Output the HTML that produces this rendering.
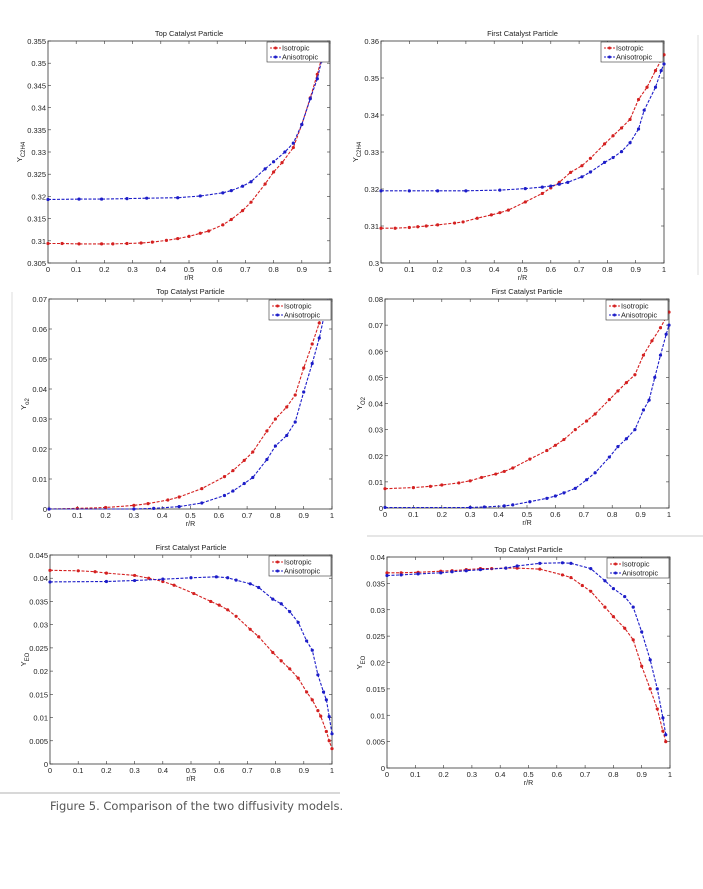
<!DOCTYPE html>
<html><head><meta charset="utf-8"><style>
html,body{margin:0;padding:0;background:#fff;width:703px;height:889px;overflow:hidden}
svg{position:absolute;left:0;top:0}
text{font-family:"Liberation Sans",sans-serif;fill:#222}
.cap{position:absolute;left:50px;top:799px;font-family:"DejaVu Sans","Liberation Sans",sans-serif;font-size:11.5px;color:#555}
</style></head><body>
<svg id="s" width="703" height="889" xmlns="http://www.w3.org/2000/svg">
<line x1="0" y1="793" x2="340" y2="793" stroke="#ccc" stroke-width="1.5"/>
<line x1="367" y1="536" x2="703" y2="536" stroke="#ddd" stroke-width="1.5"/>
<line x1="698" y1="35" x2="698" y2="275" stroke="#ddd" stroke-width="1"/>
<line x1="12" y1="292" x2="12" y2="520" stroke="#ddd" stroke-width="1"/>
</svg>
<div class="cap">Figure 5. Comparison of the two diffusivity models.</div>
<script>
var S=document.getElementById('s'),NS='http://www.w3.org/2000/svg';
function el(t,a,txt){var e=document.createElementNS(NS,t);for(var k in a)e.setAttribute(k,a[k]);if(txt!=null)e.textContent=txt;S.appendChild(e);return e;}
function P(o){
 var X0=o.x0,X1=o.x1,Y0=o.y0,Y1=o.y1;
 function px(x){return X0+x*(X1-X0);} function py(y){return Y1-(y-o.ymin)/(o.ymax-o.ymin)*(Y1-Y0);}
 el('rect',{x:X0,y:Y0,width:X1-X0,height:Y1-Y0,fill:'none',stroke:'#333','stroke-width':0.8});
 el('text',{x:(X0+X1)/2,y:Y0-5,'font-size':7.5,'text-anchor':'middle'},o.title);
 for(var i=0;i<=10;i++){var x=px(i/10);
  el('line',{x1:x,y1:Y1,x2:x,y2:Y1-3,stroke:'#333','stroke-width':0.6});
  el('line',{x1:x,y1:Y0,x2:x,y2:Y0+3,stroke:'#333','stroke-width':0.6});
  el('text',{x:x,y:Y1+9,'font-size':7.5,'text-anchor':'middle'},i==0?'0':i==10?'1':(i/10).toString());}
 for(var j=0;j<=o.nt;j++){var v=o.ymin+j*(o.ymax-o.ymin)/o.nt,y=py(v);
  el('line',{x1:X0,y1:y,x2:X0+3,y2:y,stroke:'#333','stroke-width':0.6});
  el('line',{x1:X1,y1:y,x2:X1-3,y2:y,stroke:'#333','stroke-width':0.6});
  var s=j==0&&o.ymin==0?'0':(+v.toFixed(o.dp)).toString();
  el('text',{x:X0-2,y:y+3,'font-size':7.5,'text-anchor':'end'},s);}
 el('text',{x:(X1+X0)/2,y:Y1+17,'font-size':7,'text-anchor':'middle'},'r/R');
 var t=el('text',{transform:'translate('+(o.lx)+','+((Y0+Y1)/2)+') rotate(-90)','font-size':7.5,'text-anchor':'middle'});
 t.innerHTML='Y<tspan font-size="6" dy="3">'+o.yl+'</tspan>';
 [[o.iso,'#d42020'],[o.an,'#1c1cc8']].forEach(function(d){
  var pts=d[0].map(function(p){return px(p[0]).toFixed(1)+','+py(p[1]).toFixed(1)}).join(' ');
  el('polyline',{points:pts,fill:'none',stroke:d[1],'stroke-width':1.1,'stroke-dasharray':'3,1.5'});
  d[0].forEach(function(p){el('circle',{cx:px(p[0]),cy:py(p[1]),r:1.6,fill:d[1]});});
 });
 var lx=X1-63,ly=Y0+1;
 el('rect',{x:lx,y:ly,width:62,height:20,fill:'#fff',stroke:'#333','stroke-width':0.6});
 [['Isotropic','#d42020'],['Anisotropic','#1c1cc8']].forEach(function(q,k){var yy=ly+6+k*9;
  el('line',{x1:lx+3,y1:yy,x2:lx+14,y2:yy,stroke:q[1],'stroke-width':0.9,'stroke-dasharray':'2,1'});
  el('circle',{cx:lx+8.5,cy:yy,r:1.5,fill:q[1]});
  el('text',{x:lx+15,y:yy+2.5,'font-size':7.3},q[0]);});
}
P({x0:48,x1:330,y0:41,y1:263,ymin:.305,ymax:.355,nt:10,dp:3,lx:22,yl:'C2H4',title:'Top Catalyst Particle',
iso:[[0,.3094],[.05,.3094],[.11,.3093],[.19,.3093],[.23,.3093],[.28,.3094],[.33,.3095],[.37,.3097],[.42,.3101],[.46,.3105],[.5,.311],[.54,.3117],[.57,.3122],[.62,.3136],[.65,.3148],[.69,.3168],[.72,.3187],[.77,.3228],[.8,.3255],[.83,.3276],[.87,.331],[.9,.3362],[.93,.3422],[.955,.3475],[.97,.351],[.985,.354]],
an:[[0,.3193],[.11,.3194],[.19,.3194],[.28,.3195],[.35,.3196],[.46,.3197],[.54,.3201],[.62,.3208],[.65,.3213],[.69,.3223],[.72,.3233],[.77,.3262],[.8,.3278],[.84,.33],[.87,.332],[.9,.3362],[.93,.342],[.955,.3465],[.97,.3505],[.985,.3535]]});
P({x0:381,x1:664,y0:41,y1:263,ymin:.3,ymax:.36,nt:6,dp:2,lx:358,yl:'C2H4',title:'First Catalyst Particle',
iso:[[0,.3094],[.05,.3094],[.1,.3096],[.13,.3098],[.16,.31],[.2,.3103],[.26,.3108],[.29,.3111],[.34,.3121],[.39,.313],[.42,.3136],[.45,.3143],[.51,.3165],[.57,.3188],[.6,.3203],[.63,.3218],[.67,.3245],[.71,.3263],[.74,.3283],[.79,.3322],[.82,.3344],[.85,.3365],[.88,.3388],[.91,.3442],[.94,.3475],[.97,.352],[1,.3563]],
an:[[0,.3195],[.1,.3195],[.2,.3195],[.3,.3195],[.42,.3197],[.51,.3201],[.57,.3205],[.6,.3208],[.63,.3213],[.66,.3218],[.71,.3233],[.74,.3246],[.79,.3272],[.82,.3285],[.85,.3301],[.88,.3325],[.91,.3362],[.93,.3413],[.97,.3475],[.99,.352],[1,.3538]]});
P({x0:49,x1:332,y0:299,y1:509,ymin:0,ymax:.07,nt:7,dp:2,lx:26,yl:'o2',title:'Top Catalyst Particle',
iso:[[0,0],[.1,.0002],[.2,.0005],[.3,.0012],[.35,.0018],[.42,.003],[.46,.004],[.54,.0068],[.62,.0108],[.65,.0128],[.69,.0162],[.72,.019],[.77,.026],[.8,.03],[.84,.034],[.87,.038],[.9,.047],[.93,.055],[.955,.062],[.97,.0675],[.985,.069]],
an:[[0,0],[.3,0],[.37,.0002],[.46,.0008],[.54,.002],[.62,.0045],[.65,.006],[.69,.0085],[.72,.0105],[.77,.0165],[.8,.021],[.84,.0245],[.87,.029],[.9,.039],[.93,.0485],[.955,.057],[.975,.0655],[.985,.0692]]});
P({x0:385,x1:669,y0:299,y1:508,ymin:0,ymax:.08,nt:8,dp:2,lx:362,yl:'O2',title:'First Catalyst Particle',
iso:[[0,.0074],[.1,.0078],[.16,.0083],[.2,.0088],[.26,.0096],[.3,.0104],[.34,.0117],[.39,.013],[.42,.014],[.45,.0153],[.51,.0187],[.57,.022],[.6,.024],[.63,.0262],[.67,.03],[.71,.0333],[.74,.036],[.79,.0415],[.82,.0448],[.85,.048],[.88,.051],[.91,.0585],[.94,.064],[.97,.069],[1,.075]],
an:[[0,.0002],[.3,.0002],[.35,.0004],[.42,.0008],[.45,.0012],[.51,.0024],[.57,.0037],[.6,.0046],[.63,.0058],[.67,.0075],[.71,.0108],[.74,.0135],[.79,.0195],[.82,.0235],[.85,.0265],[.88,.03],[.91,.0375],[.93,.0413],[.95,.05],[.97,.0585],[.99,.0665],[1,.07]]});
P({x0:50,x1:332,y0:555,y1:764,ymin:0,ymax:.045,nt:9,dp:3,lx:26,yl:'EO',title:'First Catalyst Particle',
iso:[[0,.0417],[.1,.0416],[.16,.0414],[.2,.0411],[.3,.0406],[.35,.04],[.4,.0393],[.44,.0385],[.51,.0367],[.57,.035],[.6,.0342],[.63,.0332],[.66,.0318],[.71,.029],[.74,.0274],[.79,.024],[.82,.0222],[.85,.0205],[.88,.0185],[.91,.0155],[.93,.0138],[.95,.0115],[.96,.0103],[.98,.007],[.99,.005],[1,.0033]],
an:[[0,.0392],[.2,.0393],[.3,.0395],[.4,.0398],[.5,.0401],[.59,.0403],[.63,.0401],[.66,.0396],[.71,.0388],[.74,.038],[.79,.0355],[.82,.0345],[.85,.0328],[.88,.0305],[.91,.0265],[.93,.0245],[.95,.0192],[.97,.0155],[.98,.0138],[.99,.0102],[1,.0065]]});
P({x0:387,x1:670,y0:557,y1:768,ymin:0,ymax:.04,nt:8,dp:3,lx:362,yl:'EO',title:'Top Catalyst Particle',
iso:[[0,.037],[.05,.037],[.11,.0371],[.19,.0373],[.23,.0374],[.28,.0376],[.33,.0378],[.37,.0378],[.42,.0379],[.46,.0379],[.54,.0377],[.62,.0366],[.65,.0361],[.69,.0346],[.72,.0335],[.77,.0305],[.8,.0287],[.84,.0265],[.87,.0243],[.9,.0193],[.93,.015],[.955,.0112],[.975,.007],[.985,.005]],
an:[[0,.0365],[.05,.0366],[.11,.0368],[.19,.037],[.23,.0372],[.28,.0374],[.33,.0376],[.42,.0379],[.46,.0383],[.54,.0388],[.62,.0389],[.65,.0388],[.72,.0378],[.77,.0355],[.8,.034],[.84,.0325],[.87,.0305],[.9,.0258],[.93,.0205],[.955,.015],[.975,.0095],[.985,.0063]]});
</script>
</body></html>
